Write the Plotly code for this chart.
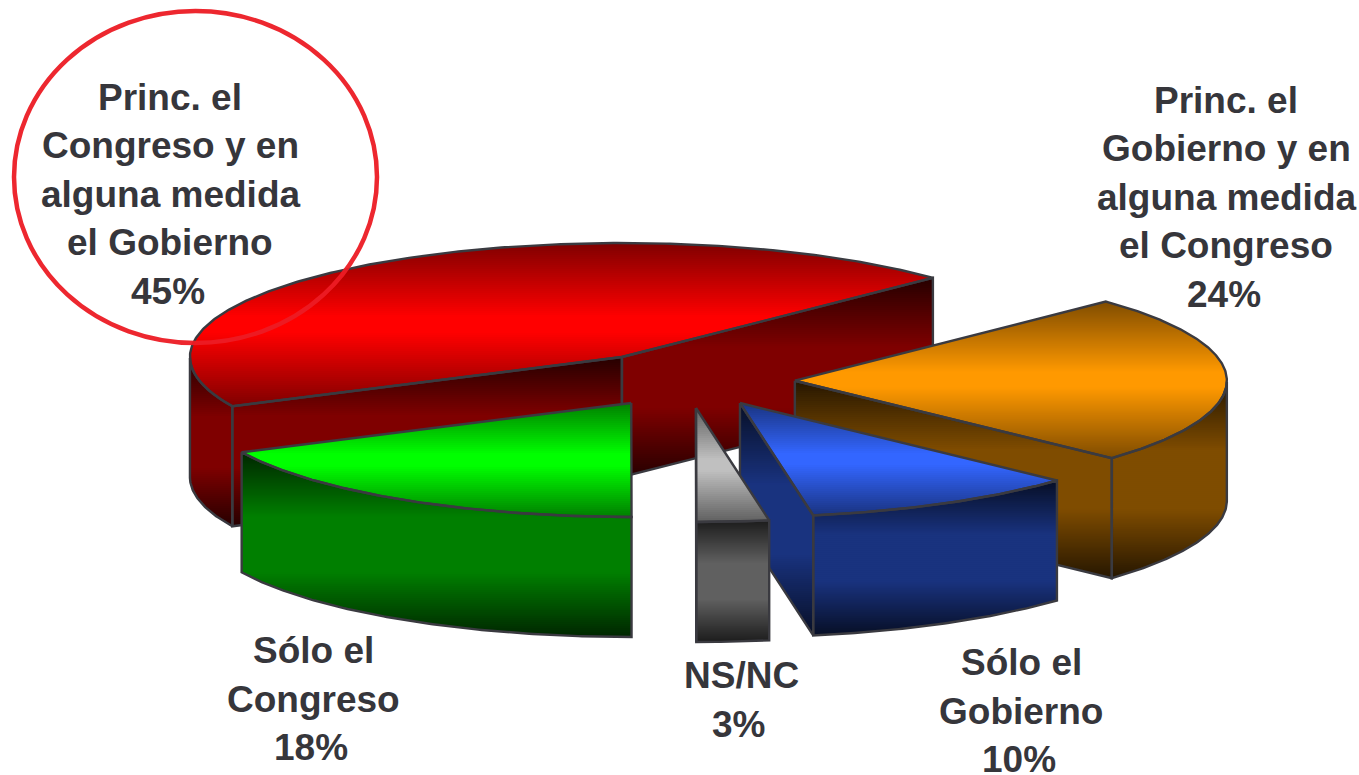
import numpy as np
import plotly.graph_objects as go

# slices start at the orange one and run counter-clockwise; shares read off the
# slice angles, the printed labels are these rounded
labels = [
    "Princ. el<br>Gobierno y en<br>alguna medida<br>el Congreso",
    "Princ. el<br>Congreso y en<br>alguna medida<br>el Gobierno",
    "Sólo el<br>Congreso",
    "NS/NC",
    "Sólo el<br>Gobierno",
]
shares = [24.1, 44.9, 17.9, 2.7, 10.4]

# style and layout
colors = [(255, 153, 0), (255, 0, 0), (0, 255, 0), (192, 192, 192), (51, 102, 255)]
pull_x = [0.252, 0.26, 0.238, 0.27, 0.262]
pull_y = [0.25, 0.256, 0.228, 0.238, 0.22]
label_x = [1226, 170, 313, 741, 1021]
label_y = [197, 194, 699, 700, 711]
draw_order = [1, 0, 4, 3, 2]

W, H = 1359, 775
CX, CY = 686, 381
RX, RY = 432, 114
DEPTH = 120
START = -42.8
BAND = 2
EDGE = "#3a3a40"
TEXT = "#36363b"
FONT_SIZE = 37
LINE_GAP = 48.5
PCT_SHIFT = -2.5


def clip(pts, keep):
    # one half plane of a Sutherland-Hodgman clip, keep = (axis value, sign)
    lim, sign = keep
    out = []
    for i in range(len(pts)):
        a, b = pts[i], pts[(i + 1) % len(pts)]
        ina, inb = sign * (a[1] - lim) >= 0, sign * (b[1] - lim) >= 0
        if ina:
            out.append(a)
        if ina != inb:
            t = (lim - a[1]) / (b[1] - a[1])
            out.append((a[0] + t * (b[0] - a[0]), lim))
    return out


def shade(base, t, lo, hi, flat):
    # dark at both ends, full in the middle
    f = min(1.0, (1 - abs(2 * t - 1)) / (1 - flat))
    k = lo + (hi - lo) * f
    return "rgb(%d,%d,%d)" % tuple(int(c * k) for c in base)


def paint(fig, pts, base, lo, hi, flat):
    ys = [p[1] for p in pts]
    top, bottom = min(ys), max(ys)
    for y in np.arange(top, bottom, BAND):
        part = clip(clip(pts, (y, 1)), (y + BAND + 0.7, -1))
        if len(part) < 3:
            continue
        t = (y + BAND / 2 - top) / (bottom - top)
        fig.add_trace(go.Scatter(
            x=[p[0] for p in part] + [part[0][0]],
            y=[p[1] for p in part] + [part[0][1]],
            mode="lines", fill="toself", line=dict(width=0),
            fillcolor=shade(base, t, lo, hi, flat),
            hoverinfo="skip", showlegend=False,
        ))


def outline(fig, paths):
    xs, ys = [], []
    for path in paths:
        xs += [p[0] for p in path] + [path[0][0], None]
        ys += [p[1] for p in path] + [path[0][1], None]
    fig.add_trace(go.Scatter(x=xs, y=ys, mode="lines",
                             line=dict(color=EDGE, width=2.4),
                             hoverinfo="skip", showlegend=False))


def draw_slice(fig, a0, a1, base, dx, dy):
    mid = np.radians((a0 + a1) / 2)
    ox = CX + dx * RX * np.cos(mid)
    oy = CY - dy * RY * np.sin(mid)

    def rim(a):
        r = np.radians(a)
        return (ox + RX * np.cos(r), oy - RY * np.sin(r))

    def down(p):
        return (p[0], p[1] + DEPTH)

    apex = (ox, oy)
    angles = np.linspace(a0, a1, max(2, int((a1 - a0) * 2)))
    paths = []

    # cut faces that look towards the viewer
    faces = []
    if np.cos(np.radians(a0)) > 1e-6:
        faces.append(rim(a0))
    if np.cos(np.radians(a1)) < -1e-6:
        faces.append(rim(a1))
    for p in faces:
        quad = [apex, p, down(p), down(apex)]
        paint(fig, quad, base, 0.15, 0.5, 0.3)
        paths.append(quad)

    # outer wall, only the front half of the rim shows
    seen = [a for a in angles if np.sin(np.radians(a)) <= 1e-6]
    if len(seen) > 1:
        arc = [rim(a) for a in seen]
        wall = arc + [down(p) for p in arc[::-1]]
        paint(fig, wall, base, 0.15, 0.5, 0.3)
        paths.append(wall)

    top = [apex] + [rim(a) for a in angles]
    paint(fig, top, base, 0.5, 1.0, 0.1)
    paths.append(top)
    outline(fig, paths)


fig = go.Figure()

spans = []
a = START
for s in shares:
    spans.append((a, a + s * 3.6))
    a += s * 3.6

for i in draw_order:
    draw_slice(fig, spans[i][0], spans[i][1], colors[i], pull_x[i], pull_y[i])

# one annotation per line, the source line spacing is a bit wider than plotly's
for name, s, x, y in zip(labels, shares, label_x, label_y):
    lines = name.split("<br>") + ["%d%%" % round(s)]
    for n, line in enumerate(lines):
        fig.add_annotation(x=x + (PCT_SHIFT if n == len(lines) - 1 else 0),
                           y=y + (n - (len(lines) - 1) / 2) * LINE_GAP,
                           text="<b>%s</b>" % line, showarrow=False,
                           xanchor="center", yanchor="middle", align="center",
                           font=dict(family="Liberation Sans", size=FONT_SIZE, color=TEXT))

fig.add_shape(type="circle", x0=14, x1=377, y0=11, y1=343,
              line=dict(color="#ed1c24", width=4.5), layer="above", opacity=0.95)

fig.update_layout(
    width=W, height=H, margin=dict(l=0, r=0, t=0, b=0),
    paper_bgcolor="white", plot_bgcolor="white", showlegend=False,
    xaxis=dict(range=[0, W], visible=False, fixedrange=True),
    yaxis=dict(range=[H, 0], visible=False, fixedrange=True),
)

fig.write_html("out.html", config={"displayModeBar": False},
               post_script="document.body.style.margin='0';document.body.style.overflow='hidden';")
